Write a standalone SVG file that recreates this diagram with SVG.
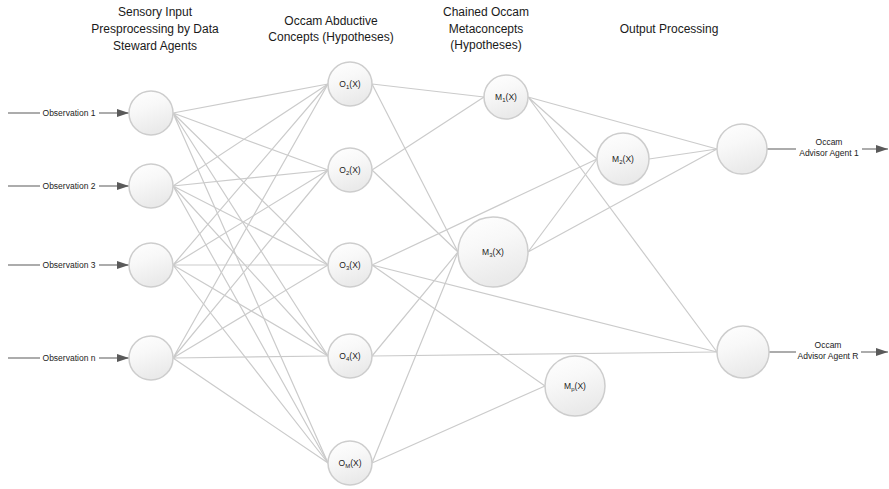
<svg xmlns="http://www.w3.org/2000/svg" width="889" height="489" viewBox="0 0 889 489">
  <defs>
    <linearGradient id="nodeFill" x1="0" y1="0" x2="0.35" y2="1">
      <stop offset="0" stop-color="#ffffff"/>
      <stop offset="0.45" stop-color="#f8f8f8"/>
      <stop offset="1" stop-color="#eaeaea"/>
    </linearGradient>
    <marker id="arrow" viewBox="0 0 12 8" refX="12" refY="4" markerWidth="12" markerHeight="8" markerUnits="userSpaceOnUse" orient="auto">
      <path d="M0,0 L12,4 L0,8 z" fill="#5a5a5a"/>
    </marker>
  </defs>
  <style>
    .node { fill: url(#nodeFill); stroke: #cdcdcd; stroke-width: 1.5; }
    .edge { stroke: #cbcbcb; stroke-width: 1.2; fill: none; }
    .io { stroke: #5a5a5a; stroke-width: 1.1; fill: none; }
    .head { font-family: "Liberation Sans", Arial, sans-serif; font-size: 12px; fill: #1a1a1a; text-anchor: middle; }
    .lbl { font-family: "Liberation Sans", Arial, sans-serif; font-size: 8.5px; fill: #222; text-anchor: middle; }
    .sub { font-size: 6px; }
    .gap { fill: #ffffff; }
  </style>

  <rect width="889" height="489" fill="#ffffff"/>

  <!-- column headings -->
  <g id="headings">
    <text class="head" x="155" y="16">Sensory Input</text>
    <text class="head" x="155" y="33">Presprocessing by Data</text>
    <text class="head" x="155" y="50">Steward Agents</text>
    <text class="head" x="331" y="25">Occam Abductive</text>
    <text class="head" x="331" y="41">Concepts (Hypotheses)</text>
    <text class="head" x="486" y="16">Chained Occam</text>
    <text class="head" x="486" y="33">Metaconcepts</text>
    <text class="head" x="486" y="49">(Hypotheses)</text>
    <text class="head" x="669" y="33">Output Processing</text>
  </g>

  <!-- weighted links between layers -->
  <g id="connectors">
    <!-- inputs to concepts (fully connected) -->
    <path class="edge" d="M173,113 L328,84 M173,113 L328,170 M173,113 L328,265 M173,113 L328,356 M173,113 L328,463"/>
    <path class="edge" d="M173,186 L328,84 M173,186 L328,170 M173,186 L328,265 M173,186 L328,356 M173,186 L328,463"/>
    <path class="edge" d="M173,265 L328,84 M173,265 L328,170 M173,265 L328,265 M173,265 L328,356 M173,265 L328,463"/>
    <path class="edge" d="M173,358 L328,84 M173,358 L328,170 M173,358 L328,265 M173,358 L328,356 M173,358 L328,463"/>
    <!-- concepts to metaconcepts / outputs -->
    <path class="edge" d="M372,84 L484,97 M372,84 L458,252"/>
    <path class="edge" d="M372,170 L484,97 M372,170 L458,252"/>
    <path class="edge" d="M372,265 L597,159 M372,265 L717,352 M372,265 L545,386"/>
    <path class="edge" d="M372,356 L458,252 M372,356 L717,352"/>
    <path class="edge" d="M372,463 L458,252 M372,463 L545,386"/>
    <!-- metaconcepts to outputs -->
    <path class="edge" d="M528,97 L717,149 M528,97 L597,159 M528,97 L717,352"/>
    <path class="edge" d="M528,252 L597,159 M528,252 L717,149"/>
    <path class="edge" d="M649,159 L717,149"/>
  </g>

  <!-- observation inputs -->
  <g id="observations">
    <line class="io" x1="8" y1="113" x2="129" y2="113" marker-end="url(#arrow)"/>
    <rect class="gap" x="40" y="108" width="59" height="10"/>
    <text class="lbl" x="69" y="116">Observation 1</text>
    <line class="io" x1="8" y1="186" x2="129" y2="186" marker-end="url(#arrow)"/>
    <rect class="gap" x="40" y="181" width="59" height="10"/>
    <text class="lbl" x="69" y="189">Observation 2</text>
    <line class="io" x1="8" y1="265" x2="129" y2="265" marker-end="url(#arrow)"/>
    <rect class="gap" x="40" y="260" width="59" height="10"/>
    <text class="lbl" x="69" y="268">Observation 3</text>
    <line class="io" x1="8" y1="358" x2="129" y2="358" marker-end="url(#arrow)"/>
    <rect class="gap" x="40" y="353" width="59" height="10"/>
    <text class="lbl" x="69" y="361">Observation n</text>
  </g>

  <!-- advisor outputs -->
  <g id="advisors">
    <line class="io" x1="767" y1="149" x2="888" y2="149" marker-end="url(#arrow)"/>
    <rect class="gap" x="796" y="136" width="66" height="22"/>
    <text class="lbl" x="829" y="145">Occam</text>
    <text class="lbl" x="829" y="156">Advisor Agent 1</text>
    <line class="io" x1="769" y1="352" x2="888" y2="352" marker-end="url(#arrow)"/>
    <rect class="gap" x="796" y="339" width="65" height="22"/>
    <text class="lbl" x="828" y="348">Occam</text>
    <text class="lbl" x="828" y="359">Advisor Agent R</text>
  </g>

  <!-- input agents -->
  <g id="in1"><circle class="node" cx="151" cy="113" r="22"/></g>
  <g id="in2"><circle class="node" cx="151" cy="186" r="22"/></g>
  <g id="in3"><circle class="node" cx="151" cy="265" r="22"/></g>
  <g id="in4"><circle class="node" cx="151" cy="358" r="22"/></g>

  <!-- abductive concepts -->
  <g id="o1"><circle class="node" cx="350" cy="84" r="22"/>
    <text class="lbl" x="350" y="87">O<tspan class="sub" dy="1.5">1</tspan><tspan dy="-1.5">(X)</tspan></text></g>
  <g id="o2"><circle class="node" cx="350" cy="170" r="22"/>
    <text class="lbl" x="350" y="173">O<tspan class="sub" dy="1.5">2</tspan><tspan dy="-1.5">(X)</tspan></text></g>
  <g id="o3"><circle class="node" cx="350" cy="265" r="22"/>
    <text class="lbl" x="350" y="268">O<tspan class="sub" dy="1.5">3</tspan><tspan dy="-1.5">(X)</tspan></text></g>
  <g id="o4"><circle class="node" cx="350" cy="356" r="22"/>
    <text class="lbl" x="350" y="359">O<tspan class="sub" dy="1.5">4</tspan><tspan dy="-1.5">(X)</tspan></text></g>
  <g id="oM"><circle class="node" cx="350" cy="463" r="22"/>
    <text class="lbl" x="350" y="466">O<tspan class="sub" dy="1.5">M</tspan><tspan dy="-1.5">(X)</tspan></text></g>

  <!-- metaconcepts -->
  <g id="m1"><circle class="node" cx="506" cy="97" r="22"/>
    <text class="lbl" x="506" y="100">M<tspan class="sub" dy="1.5">1</tspan><tspan dy="-1.5">(X)</tspan></text></g>
  <g id="m2"><circle class="node" cx="623" cy="159" r="26"/>
    <text class="lbl" x="623" y="162">M<tspan class="sub" dy="1.5">2</tspan><tspan dy="-1.5">(X)</tspan></text></g>
  <g id="m3"><circle class="node" cx="493" cy="252" r="35"/>
    <text class="lbl" x="493" y="255">M<tspan class="sub" dy="1.5">3</tspan><tspan dy="-1.5">(X)</tspan></text></g>
  <g id="mp"><circle class="node" cx="575" cy="386" r="30"/>
    <text class="lbl" x="575" y="389">M<tspan class="sub" dy="1.5">p</tspan><tspan dy="-1.5">(X)</tspan></text></g>

  <!-- output processing agents -->
  <g id="out1"><circle class="node" cx="742" cy="149" r="25"/></g>
  <g id="outR"><circle class="node" cx="743" cy="352" r="26"/></g>
</svg>
